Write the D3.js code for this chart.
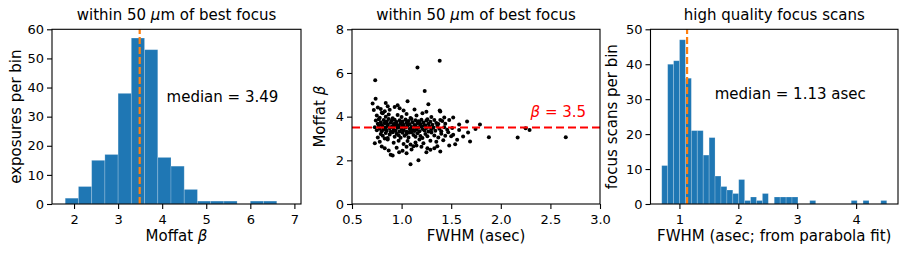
<!DOCTYPE html>
<html>
<head>
<meta charset="utf-8">
<script src="https://cdn.jsdelivr.net/npm/d3@7"></script>
<style>
  body { margin: 0; background: #fff; }
  svg text { font-family: "DejaVu Sans", sans-serif; fill: #000; }
</style>
</head>
<body>
<div id="chart"></div>
<script>
/* CONSTANTS AND GLOBALS */
const width = 908;
const height = 256;
const plotTop = 29.3;
const plotBottom = 204;

/* DATA */
// left: histogram of Moffat beta (bins 1.8 -> 6.6, width 0.3)
const betaBinLo = 1.8;
const betaBinHi = 6.6;
const betaCounts = [2, 6, 15, 17, 38, 57, 53, 16, 13, 5, 1, 1, 1, 0, 1, 1];
const betaMedian = 3.49;

// right: histogram of FWHM from parabola fit (38 bins, 0.70 -> 4.52)
const fwhmBinLo = 0.70;
const fwhmBinHi = 4.52;
const fwhmCounts = [11, 40, 41, 47, 36, 21, 21, 14, 19, 8, 5, 4, 3, 7, 1, 2, 1, 3, 0,
                    2, 2, 2, 2, 0, 0, 1, 0, 0, 0, 0, 0, 0, 1, 0, 1, 0, 0, 1];
const fwhmMedian = 1.13;

// middle: scatter [FWHM (asec), Moffat beta]
const scatterPoints = [
  [1.09,1.82],[1.17,2.00],
  [0.89,2.25],[0.91,2.22],[0.975,2.37],[1.05,2.32],[1.25,2.37],[1.39,2.40],
  [0.80,2.63],[0.83,2.55],[0.87,2.45],[0.95,2.58],[1.01,2.44],[1.05,2.62],[1.10,2.50],[1.12,2.65],
  [1.15,2.68],[1.20,2.62],[1.26,2.55],[1.29,2.48],[1.33,2.55],[1.36,2.65],[1.48,2.68],
  [0.73,2.78],[0.78,2.85],[0.86,2.95],[0.92,2.80],[0.97,2.90],[1.02,2.75],[1.06,2.88],[1.09,2.72],
  [1.14,2.82],[1.18,2.95],[1.22,2.78],[1.29,2.90],[1.35,2.85],[1.42,2.92],[1.54,2.74],[1.56,2.94],[1.69,2.86],
  [1.88,3.06],[2.17,3.05],[2.655,3.06],[1.62,3.09],[1.52,3.17],[1.50,3.10],[1.67,3.27],
  [0.76,3.05],[0.79,3.20],[0.81,3.12],[0.84,3.25],[0.86,3.02],[0.88,3.18],[0.91,3.28],[0.93,3.08],
  [0.95,3.22],[0.97,3.15],[0.99,3.03],[1.01,3.26],[1.03,3.12],[1.05,3.20],[1.07,3.05],[1.10,3.29],
  [1.12,3.16],[1.14,3.08],[1.16,3.24],[1.19,3.11],[1.21,3.02],[1.24,3.20],[1.26,3.10],[1.30,3.27],
  [1.33,3.14],[1.37,3.05],[1.40,3.22],[1.44,3.12],[1.47,3.28],[0.83,3.00],[1.08,3.27],
  [1.745,3.44],[2.25,3.47],[2.29,3.39],[1.58,3.39],
  [0.73,3.52],[0.75,3.38],[0.77,3.58],[0.78,3.45],[0.80,3.33],[0.81,3.55],[0.82,3.42],[0.84,3.50],
  [0.85,3.36],[0.86,3.58],[0.88,3.47],[0.89,3.31],[0.90,3.54],[0.92,3.40],[0.93,3.59],[0.94,3.35],
  [0.96,3.49],[0.97,3.57],[0.98,3.32],[1.00,3.44],[1.01,3.56],[1.02,3.38],[1.04,3.50],[1.05,3.31],
  [1.06,3.58],[1.08,3.43],[1.09,3.35],[1.10,3.53],[1.11,3.46],[1.13,3.34],[1.14,3.57],[1.15,3.41],
  [1.17,3.50],[1.18,3.33],[1.20,3.55],[1.21,3.44],[1.23,3.37],[1.24,3.59],[1.25,3.48],[1.27,3.32],
  [1.28,3.54],[1.30,3.42],[1.32,3.50],[1.34,3.36],[1.36,3.57],[1.38,3.45],[1.40,3.33],[1.43,3.52],
  [1.46,3.40],[1.51,3.48],[1.12,3.39],[0.99,3.52],[1.19,3.58],
  [1.58,3.64],[1.66,3.78],[1.79,3.64],[1.39,3.85],[1.48,3.85],
  [0.74,3.82],[0.76,3.68],[0.77,3.88],[0.79,3.74],[0.80,3.62],[0.82,3.85],[0.83,3.70],[0.85,3.78],
  [0.86,3.64],[0.87,3.89],[0.89,3.72],[0.90,3.81],[0.92,3.66],[0.93,3.86],[0.95,3.75],[0.96,3.61],
  [0.98,3.83],[0.99,3.69],[1.01,3.78],[1.02,3.63],[1.04,3.87],[1.05,3.72],[1.07,3.80],[1.08,3.65],
  [1.10,3.89],[1.11,3.74],[1.13,3.62],[1.14,3.83],[1.16,3.70],[1.17,3.79],[1.19,3.64],[1.20,3.86],
  [1.22,3.73],[1.23,3.61],[1.25,3.82],[1.27,3.68],[1.29,3.77],[1.31,3.63],[1.33,3.85],[1.35,3.71],
  [1.37,3.66],[1.41,3.80],[1.44,3.68],[0.94,3.70],[1.06,3.66],[0.84,3.73],[1.18,3.76],[1.26,3.88],
  [1.43,3.96],[1.52,3.96],[0.75,4.05],[0.78,3.95],[0.81,4.15],[0.84,4.00],[0.87,4.10],[0.91,3.93],
  [0.96,4.08],[1.00,3.98],[1.05,4.12],[1.09,3.94],[1.15,4.05],[1.21,4.15],[1.30,3.98],[0.80,4.18],
  [1.384,4.28],[1.39,4.24],[0.72,4.30],[0.76,4.42],[0.79,4.35],[0.83,4.25],[0.86,4.48],[0.88,4.32],
  [0.93,4.44],[0.98,4.38],[1.02,4.28],[1.13,4.33],[1.25,4.22],
  [0.708,4.60],[1.06,4.71],[1.27,4.57],[0.84,4.62],[0.96,4.52],
  [0.738,4.82],[1.233,5.18],[0.734,5.67],[1.16,6.25],[1.384,6.56]
];
const betaRef = 3.5;

// ticks
const leftXTicks = [2, 3, 4, 5, 6, 7];
const leftYTicks = [0, 10, 20, 30, 40, 50, 60];
const midXTicks = [0.5, 1.0, 1.5, 2.0, 2.5, 3.0];
const midYTicks = [0, 2, 4, 6, 8];
const rightXTicks = [1, 2, 3, 4];
const rightYTicks = [0, 10, 20, 30, 40, 50];

const blue = "#1f77b4";
const orange = "#ff7f0e";

/* SVG */
const svg = d3.select("#chart")
  .append("svg")
  .attr("width", width)
  .attr("height", height);

function makeBins(lo, hi, counts) {
  const w = (hi - lo) / counts.length;
  return counts.map((c, i) => ({ x0: lo + i * w, x1: lo + (i + 1) * w, count: c }));
}

function drawAxes(x, y, xTicks, yTicks, xFmt) {
  const gx = svg.append("g")
    .attr("transform", "translate(0," + plotBottom + ")")
    .call(d3.axisBottom(x).tickValues(xTicks).tickFormat(xFmt).tickSize(5).tickSizeOuter(0).tickPadding(5.3));
  const gy = svg.append("g")
    .attr("transform", "translate(" + x.range()[0] + ",0)")
    .call(d3.axisLeft(y).tickValues(yTicks).tickFormat(d3.format("d")).tickSize(5).tickSizeOuter(0).tickPadding(3));
  [gx, gy].forEach(g => {
    g.select(".domain").remove();
    g.selectAll("line").attr("stroke", "#000").attr("stroke-width", 1.1);
    g.selectAll("text").style("font-size", "13px").style("font-family", "'DejaVu Sans', sans-serif");
  });
  // frame
  svg.append("rect")
    .attr("x", x.range()[0])
    .attr("y", plotTop)
    .attr("width", x.range()[1] - x.range()[0])
    .attr("height", plotBottom - plotTop)
    .attr("fill", "none")
    .attr("stroke", "#000")
    .attr("stroke-width", 1.1);
}

function addTitle(x, txt) {
  const t = svg.append("text")
    .attr("x", (x.range()[0] + x.range()[1]) / 2)
    .attr("y", 20)
    .attr("text-anchor", "middle")
    .style("font-size", "15px");
  txt.forEach(p => t.append("tspan").attr("font-style", p[1] ? "italic" : null).text(p[0]));
}

function addXLabel(x, txt) {
  const t = svg.append("text")
    .attr("x", (x.range()[0] + x.range()[1]) / 2)
    .attr("y", 241)
    .attr("text-anchor", "middle")
    .style("font-size", "15px");
  txt.forEach(p => t.append("tspan").attr("font-style", p[1] ? "italic" : null).text(p[0]));
}

function addYLabel(xpos, txt) {
  const t = svg.append("text")
    .attr("transform", "translate(" + xpos + "," + (plotTop + plotBottom) / 2 + ") rotate(-90)")
    .attr("text-anchor", "middle")
    .style("font-size", "15px");
  txt.forEach(p => t.append("tspan").attr("font-style", p[1] ? "italic" : null).text(p[0]));
}

const titleFocus = [["within 50 ", false], ["\u03bc", true], ["m of best focus", false]];

//LEFT: beta histogram ==================================================
{
  const bins = makeBins(betaBinLo, betaBinHi, betaCounts);
  const x = d3.scaleLinear().domain([1.5, 7.15]).range([52, 301]);
  const y = d3.scaleLinear().domain([0, 60]).range([plotBottom, plotTop]);

  svg.selectAll(".beta-bar")
    .data(bins)
    .join("rect")
    .attr("class", "beta-bar")
    .attr("x", d => x(d.x0))
    .attr("y", d => y(d.count))
    .attr("width", d => x(d.x1) - x(d.x0))
    .attr("height", d => y(0) - y(d.count))
    .attr("fill", blue)
    .attr("stroke", "rgba(255,255,255,0.25)")
    .attr("stroke-width", 0.8);

  svg.append("line")
    .attr("x1", x(betaMedian)).attr("x2", x(betaMedian))
    .attr("y1", y(0)).attr("y2", plotTop)
    .attr("stroke", orange).attr("stroke-width", 2.2)
    .attr("stroke-dasharray", "7,3");

  svg.append("text")
    .attr("x", x(4.1)).attr("y", y(35))
    .style("font-size", "15px")
    .text("median = " + betaMedian.toFixed(2));

  drawAxes(x, y, leftXTicks, leftYTicks, d3.format("d"));
  addTitle(x, titleFocus);
  addXLabel(x, [["Moffat ", false], ["\u03b2", true]]);
  addYLabel(21, [["exposures per bin", false]]);
}

//MIDDLE: scatter ========================================================
{
  const x = d3.scaleLinear().domain([0.5, 3.0]).range([352, 600]);
  const y = d3.scaleLinear().domain([0, 8]).range([plotBottom, plotTop]);

  svg.selectAll(".pt")
    .data(scatterPoints)
    .join("circle")
    .attr("class", "pt")
    .attr("cx", d => x(d[0]))
    .attr("cy", d => y(d[1]))
    .attr("r", 2)
    .attr("fill", "#000");

  svg.append("line")
    .attr("x1", x(0.5)).attr("x2", x(3.0))
    .attr("y1", y(betaRef)).attr("y2", y(betaRef))
    .attr("stroke", "red").attr("stroke-width", 2)
    .attr("stroke-dasharray", "8,4");

  const t = svg.append("text")
    .attr("x", x(2.3)).attr("y", y(3.97))
    .style("font-size", "15px")
    .attr("fill", "red")
    .style("fill", "red");
  t.append("tspan").attr("font-style", "italic").text("\u03b2");
  t.append("tspan").text(" = " + betaRef);

  drawAxes(x, y, midXTicks, midYTicks, d3.format(".1f"));
  addTitle(x, titleFocus);
  addXLabel(x, [["FWHM (asec)", false]]);
  addYLabel(324.5, [["Moffat ", false], ["\u03b2", true]]);
}

//RIGHT: FWHM histogram ==================================================
{
  const bins = makeBins(fwhmBinLo, fwhmBinHi, fwhmCounts);
  const pad = 0.05 * (fwhmBinHi - fwhmBinLo);
  const x = d3.scaleLinear().domain([fwhmBinLo - pad, fwhmBinHi + pad]).range([650.5, 898]);
  const y = d3.scaleLinear().domain([0, 50]).range([plotBottom, plotTop]);

  svg.selectAll(".fwhm-bar")
    .data(bins.filter(d => d.count > 0))
    .join("rect")
    .attr("class", "fwhm-bar")
    .attr("x", d => x(d.x0))
    .attr("y", d => y(d.count))
    .attr("width", d => x(d.x1) - x(d.x0))
    .attr("height", d => y(0) - y(d.count))
    .attr("fill", blue)
    .attr("stroke", "rgba(255,255,255,0.25)")
    .attr("stroke-width", 0.8);

  svg.append("line")
    .attr("x1", x(fwhmMedian)).attr("x2", x(fwhmMedian))
    .attr("y1", y(0)).attr("y2", plotTop)
    .attr("stroke", orange).attr("stroke-width", 2.2)
    .attr("stroke-dasharray", "7,3");

  svg.append("text")
    .attr("x", x(1.6)).attr("y", y(30))
    .style("font-size", "15px")
    .text("median = " + fwhmMedian.toFixed(2) + " asec");

  drawAxes(x, y, rightXTicks, rightYTicks, d3.format("d"));
  addTitle(x, [["high quality focus scans", false]]);
  addXLabel(x, [["FWHM (asec; from parabola fit)", false]]);
  addYLabel(617, [["focus scans per bin", false]]);
}
</script>
</body>
</html>
